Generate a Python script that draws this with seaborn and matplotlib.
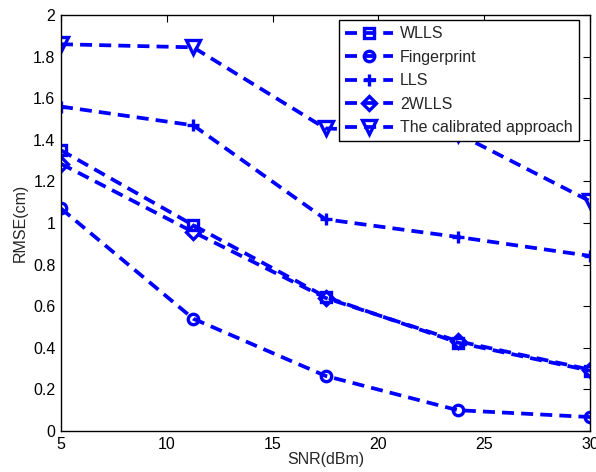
import numpy as np
import pandas as pd
import seaborn as sns
from matplotlib import pyplot as plt

snr = [5, 11.25, 17.5, 23.75, 30]
wlls = [1.35, 0.99, 0.645, 0.425, 0.29]
fingerprint = [1.07, 0.54, 0.265, 0.10, 0.067]
lls = [1.56, 1.47, 1.018, 0.933, 0.842]
wlls2 = [1.285, 0.957, 0.64, 0.432, 0.295]
calibrated = [1.86, 1.845, 1.455, 1.43, 1.105]

names = ['WLLS', 'Fingerprint', 'LLS', '2WLLS', 'The calibrated approach']
series = [wlls, fingerprint, lls, wlls2, calibrated]
markers = ['s', 'o', '+', 'D', 'v']
msizes = [7.5, 7.5, 9, 7.5, 9.5]

sns.set_style("white")
plt.rcParams['font.family'] = ['Liberation Sans', 'DejaVu Sans']

fig = plt.figure(figsize=(5.96, 4.72), dpi=100)
ax = fig.add_axes([0.1023, 0.0869, 0.8877, 0.8811])

for name, vals, m, ms in zip(names, series, markers, msizes):
    df = pd.DataFrame({'snr': snr, 'rmse': vals})
    sns.lineplot(data=df, x='snr', y='rmse', ax=ax, color='#0000ff',
                 linestyle=(0, (3.2, 1.9)), linewidth=2.7, marker=m,
                 markersize=ms, markerfacecolor='none',
                 markeredgecolor='#0000ff', markeredgewidth=2.4,
                 label=name)

ax.set_xlim(5, 30)
ax.set_ylim(0, 2)
ax.set_xticks([5, 10, 15, 20, 25, 30])
ax.set_yticks(np.arange(0, 2.01, 0.2))
ax.set_yticklabels(['0', '0.2', '0.4', '0.6', '0.8', '1', '1.2', '1.4', '1.6', '1.8', '2'])
ax.tick_params(direction='in', length=5, width=0.8, top=True, right=True,
               labelsize=11.5, colors='black', pad=4)
for s in ax.spines.values():
    s.set_visible(True)
    s.set_color('black')
    s.set_linewidth(1.0)

ax.set_xlabel('SNR(dBm)', fontsize=11.5, labelpad=0)
ax.set_ylabel('RMSE(cm)', fontsize=11.5, labelpad=4)

leg = ax.legend(loc='upper right', bbox_to_anchor=(0.985, 0.995), fontsize=11.5,
                frameon=True, fancybox=False, edgecolor='black',
                handlelength=3.0, labelspacing=0.53, borderpad=0.38,
                handletextpad=0.45, borderaxespad=0.2)
leg.get_frame().set_linewidth(1.0)
leg.get_frame().set_alpha(1)
leg.set_zorder(10)

fig.savefig('out.png', dpi=100)
